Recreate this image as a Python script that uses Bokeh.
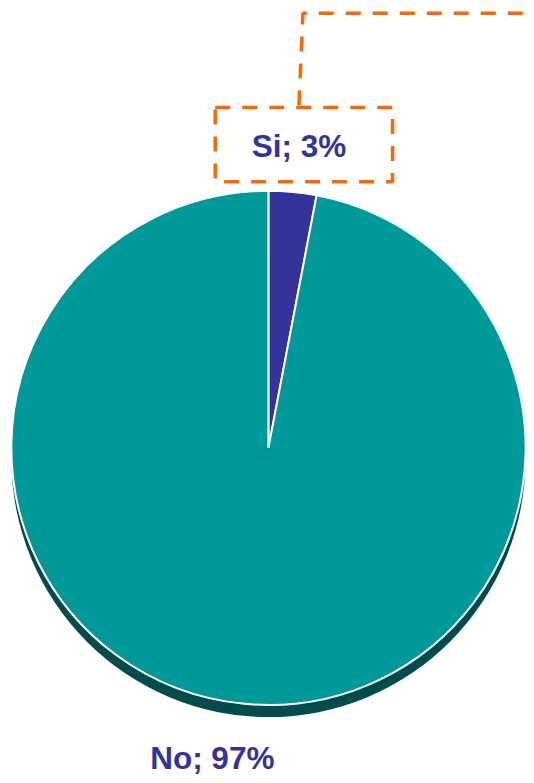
import numpy as np
from bokeh.plotting import figure
from bokeh.models import Range1d, ColumnDataSource
from bokeh.core.properties import value
from bokeh.embed import file_html
from bokeh.resources import INLINE

categories = ["Si", "No"]
values = [3, 97]
colors = ["#333399", "#009999"]

W, H = 526, 775
p = figure(width=W, height=H, output_backend="svg", toolbar_location=None,
           x_range=Range1d(0, 534), y_range=Range1d(0, 783), min_border=0,
           outline_line_color=None)
p.axis.visible = False
p.grid.visible = False
p.background_fill_color = "white"
p.border_fill_color = "white"

def py(y):  # reference y (from top) -> data y
    return 783 - y

cx, cy, r = 272, py(452), 261

# angles: start at top, go clockwise
fr = np.array(values, dtype=float) / sum(values)
cum = np.concatenate([[0], np.cumsum(fr)])
start = np.pi / 2 - cum[1:] * 2 * np.pi
end = np.pi / 2 - cum[:-1] * 2 * np.pi

# shadow
p.ellipse(x=cx, y=cy - 11, width=2 * r, height=2 * r, fill_color="#004C4C", line_color=None)

src = ColumnDataSource(dict(start=start, end=end, color=colors))
p.wedge(x=cx, y=cy, radius=r, start_angle="start", end_angle="end",
        fill_color="color", line_color="white", line_width=2, source=src)

labels = [f"{c}; {v}%" for c, v in zip(categories, values)]

# callout box and leader for "Si"
dash = "15 12"
orange = "#FF6600"
p.rect(x=308, y=py(145.5), width=180, height=75, fill_color=None,
       line_color=orange, line_width=3.5, line_dash=dash)
p.line(x=[303, 307, 540], y=[py(106), py(13), py(13)], line_color=orange,
       line_width=3.5, line_dash=dash)

p.text(x=[303, 215], y=[py(147), py(765)], text=labels, text_color="#333399",
       text_font=value("Liberation Sans"), text_font_style="bold",
       text_font_size="31.5px", text_align="center", text_baseline="alphabetic")

open("out.html", "w").write(file_html(p, INLINE))
